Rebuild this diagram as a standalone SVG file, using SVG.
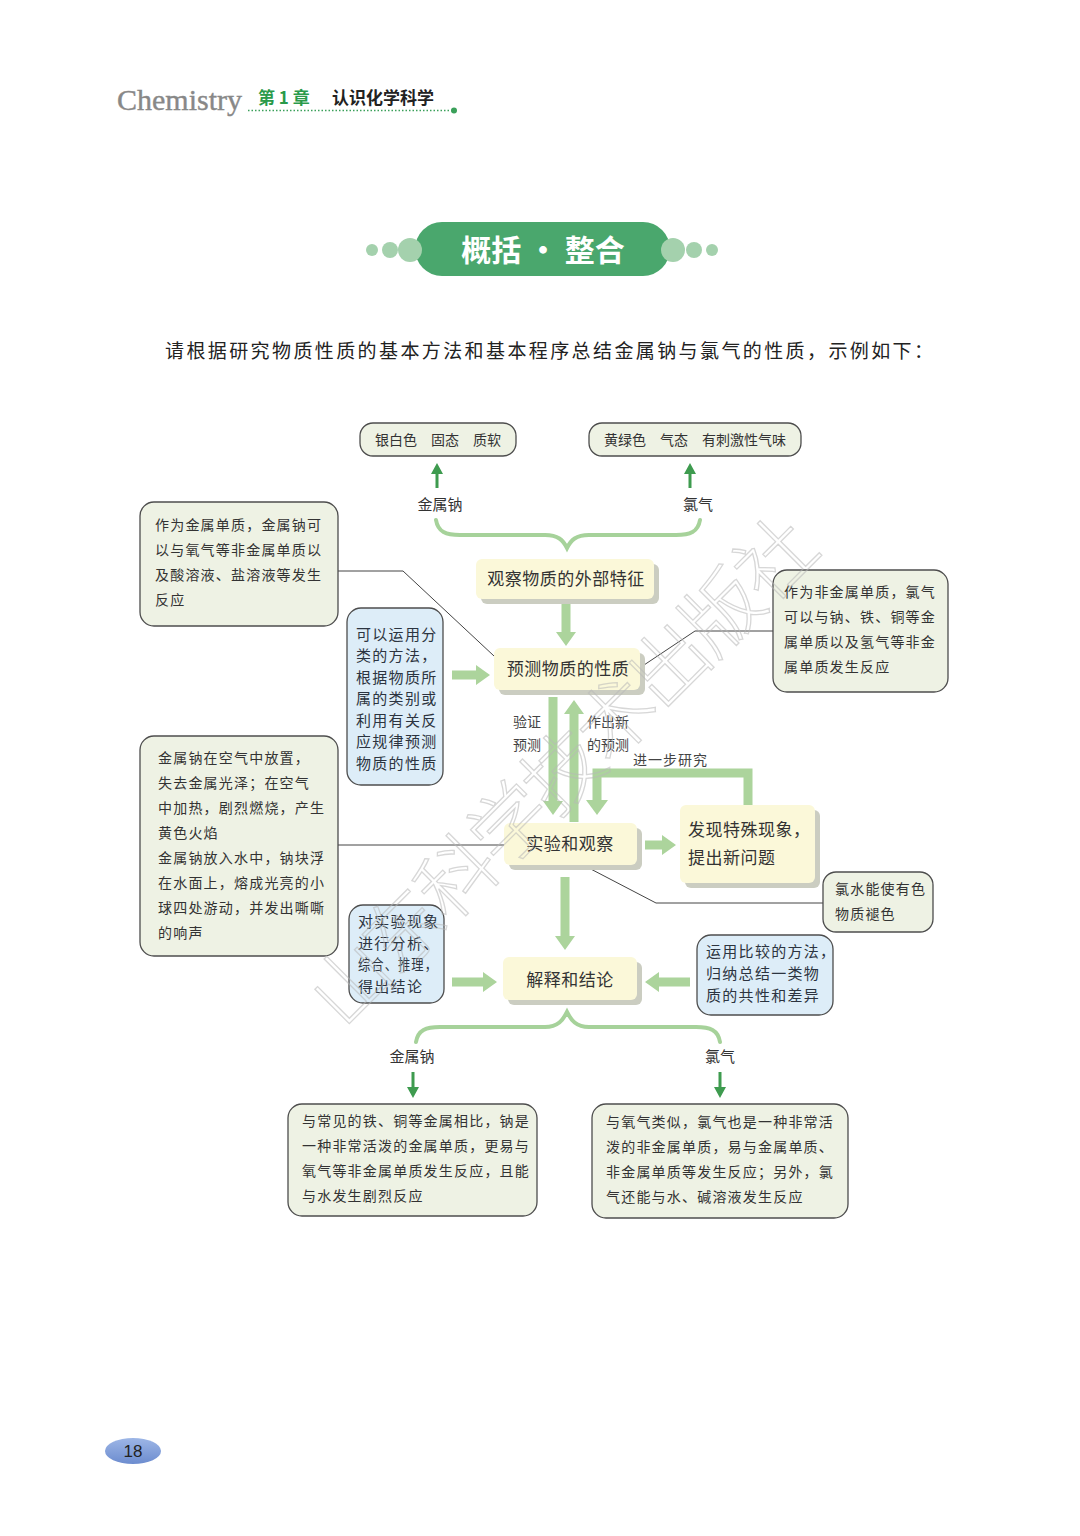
<svg xmlns="http://www.w3.org/2000/svg" width="1080" height="1536" viewBox="0 0 1080 1536">
<style>
.t{font-family:"Noto Sans CJK SC","Noto Sans CJK JP",sans-serif;fill:#333}
.d{font-size:14px;letter-spacing:1.2px}
.b{font-size:15px;letter-spacing:1.3px;fill:#2c3440}
.n{font-size:17px;letter-spacing:0.5px;fill:#333}
.lab{font-size:15px;fill:#333}
.box{fill:#eef2e4;stroke:#4d4d4d;stroke-width:1.3}
.bbox{fill:#ddedf8;stroke:#4d4d4d;stroke-width:1.3}
.node{fill:#fbf8d9}
.shd{fill:#cbcdc1}
.ta{fill:#acd49c}
.sa{fill:#3e9b4f}
.thin{fill:none;stroke:#444;stroke-width:1}
.brace{fill:none;stroke:#a6d29a;stroke-width:4;stroke-linecap:round}
</style>
<defs>
<linearGradient id="pg" x1="0" y1="0" x2="0" y2="1">
<stop offset="0" stop-color="#9db6e6"/>
<stop offset="1" stop-color="#6c8ccf"/>
</linearGradient>
</defs>
<rect width="1080" height="1536" fill="#ffffff"/>

<g id="header">
<text x="117" y="110" font-family="Liberation Serif, serif" font-size="30" fill="#888888" stroke="#888888" stroke-width="0.4">Chemistry</text>
<text x="258" y="104" class="t" font-size="17" font-weight="bold" style="fill:#2a9a4a">第 1 章</text>
<text x="332" y="104" class="t" font-size="17" font-weight="bold" style="fill:#222">认识化学科学</text>
<line x1="248" y1="110.5" x2="452" y2="110.5" stroke="#3aa05a" stroke-width="1.5" stroke-dasharray="1.5 2"/>
<circle cx="454" cy="110.5" r="3" fill="#3aa05a"/>
</g>

<g id="title">
<circle cx="372" cy="250" r="6" fill="#a4d1ad"/>
<circle cx="390" cy="250" r="8" fill="#a4d1ad"/>
<circle cx="712" cy="250" r="6" fill="#a4d1ad"/>
<circle cx="694" cy="250" r="8" fill="#a4d1ad"/>
<rect x="415" y="222" width="255" height="54" rx="27" fill="#4aa76d"/>
<circle cx="410" cy="250" r="12" fill="#a4d1ad"/>
<circle cx="673" cy="250" r="12" fill="#a4d1ad"/>
<text x="543" y="261" text-anchor="middle" class="t" font-size="30" font-weight="bold" style="fill:#ffffff">概括 · 整合</text>
</g>

<text x="165" y="358" class="t" font-size="19" letter-spacing="2.4" style="fill:#222">请根据研究物质性质的基本方法和基本程序总结金属钠与氯气的性质，示例如下：</text>

<g id="connectors">
<polygon class="sa" points="435.5,488 438.5,488 438.5,474 443,474 437,463 431,474 435.5,474"/>
<polygon class="sa" points="688.5,488 691.5,488 691.5,474 696,474 690,463 684,474 688.5,474"/>
<path class="brace" d="M436,520 C438,532 446,535 460,535 L545,535 C558,535 563,540 567,548 C571,540 576,535 589,535 L676,535 C690,535 698,532 700,520"/>
<polyline class="thin" points="338,571 403,571 494,656"/>
<polyline class="thin" points="641,667 695,631 773,631"/>
<polyline class="thin" points="338,845 505,845"/>
<polyline class="thin" points="585,866 656,903 823,903"/>
<polygon class="ta" points="561.5,604 570.5,604 570.5,632 576,632 566,646 556,632 561.5,632"/>
<polygon class="ta" points="452,670.5 452,679.5 476,679.5 476,685 490,675 476,665 476,670.5"/>
<polygon class="ta" points="548.5,697 557.5,697 557.5,801 563,801 553,815 543,801 548.5,801"/>
<polygon class="ta" points="569.5,822 578.5,822 578.5,714 584,714 574,700 564,714 569.5,714"/>
<path d="M748,806 L748,773 L597,773 L597,801" fill="none" stroke="#acd49c" stroke-width="9" stroke-linejoin="miter"/>
<polygon class="ta" points="586,800 608,800 597,815"/>
<polygon class="ta" points="645,840.5 645,849.5 662,849.5 662,855 676,845 662,835 662,840.5"/>
<polygon class="ta" points="560.5,877 569.5,877 569.5,936 575,936 565,950 555,936 560.5,936"/>
<polygon class="ta" points="452,977.5 452,986.5 483,986.5 483,992 497,982 483,972 483,977.5"/>
<polygon class="ta" points="690,977.5 690,986.5 659,986.5 659,992 645,982 659,972 659,977.5"/>
<path class="brace" d="M416,1042 C418,1030 426,1027 440,1027 L545,1027 C558,1027 563,1020 567,1012 C571,1020 576,1027 589,1027 L696,1027 C710,1027 718,1030 720,1042"/>
<polygon class="sa" points="411.5,1072 414.5,1072 414.5,1087 419,1087 413,1098 407,1087 411.5,1087"/>
<polygon class="sa" points="718.5,1072 721.5,1072 721.5,1087 726,1087 720,1098 714,1087 718.5,1087"/>
<text x="513" y="727" class="t" font-size="14" style="fill:#444">验证</text>
<text x="513" y="750" class="t" font-size="14" style="fill:#444">预测</text>
<text x="587" y="727" class="t" font-size="14" style="fill:#444">作出新</text>
<text x="587" y="750" class="t" font-size="14" style="fill:#444">的预测</text>
<text x="633" y="765" class="t" font-size="14" letter-spacing="1" style="fill:#444">进一步研究</text>
</g>

<g id="na-props">
<rect class="box" x="360" y="423" width="156" height="33" rx="13"/>
<text x="438" y="445" text-anchor="middle" class="t" font-size="14">银白色　固态　质软</text>
</g>
<g id="cl-props">
<rect class="box" x="589" y="423" width="212" height="33" rx="13"/>
<text x="695" y="445" text-anchor="middle" class="t" font-size="14">黄绿色　气态　有刺激性气味</text>
</g>
<g id="label-na-top"><text x="440" y="510" text-anchor="middle" class="t lab">金属钠</text></g>
<g id="label-cl-top"><text x="698" y="510" text-anchor="middle" class="t lab">氯气</text></g>

<g id="node-observe">
<rect class="shd" x="481" y="564" width="178" height="40" rx="6"/>
<rect class="node" x="476" y="559" width="178" height="40" rx="6"/>
<text x="566" y="585" text-anchor="middle" class="t n">观察物质的外部特征</text>
</g>
<g id="node-predict">
<rect class="shd" x="499" y="653" width="146" height="42" rx="6"/>
<rect class="node" x="494" y="648" width="146" height="42" rx="6"/>
<text x="568" y="675" text-anchor="middle" class="t n">预测物质的性质</text>
</g>
<g id="node-experiment">
<rect class="shd" x="509" y="828" width="133" height="42" rx="6"/>
<rect class="node" x="504" y="823" width="133" height="42" rx="6"/>
<text x="570" y="850" text-anchor="middle" class="t n">实验和观察</text>
</g>
<g id="node-discover">
<rect class="shd" x="685" y="810" width="135" height="78" rx="6"/>
<rect class="node" x="680" y="805" width="135" height="78" rx="6"/>
<text x="688" y="836" class="t n">发现特殊现象，</text>
<text x="688" y="864" class="t n">提出新问题</text>
</g>
<g id="node-conclude">
<rect class="shd" x="508" y="962" width="134" height="43" rx="6"/>
<rect class="node" x="503" y="957" width="134" height="43" rx="6"/>
<text x="570" y="986" text-anchor="middle" class="t n">解释和结论</text>
</g>

<g id="na-predict-note">
<rect class="box" x="140" y="502" width="198" height="124" rx="14"/>
<text x="155" y="530" class="t d">作为金属单质，金属钠可</text>
<text x="155" y="555" class="t d">以与氧气等非金属单质以</text>
<text x="155" y="580" class="t d">及酸溶液、盐溶液等发生</text>
<text x="155" y="605" class="t d">反应</text>
</g>
<g id="classify-note">
<rect class="bbox" x="347" y="608" width="96" height="177" rx="14"/>
<text x="356" y="640" class="t b">可以运用分</text>
<text x="356" y="661" class="t b">类的方法，</text>
<text x="356" y="683" class="t b">根据物质所</text>
<text x="356" y="704" class="t b">属的类别或</text>
<text x="356" y="726" class="t b">利用有关反</text>
<text x="356" y="747" class="t b">应规律预测</text>
<text x="356" y="769" class="t b">物质的性质</text>
</g>
<g id="cl-predict-note">
<rect class="box" x="773" y="570" width="175" height="122" rx="14"/>
<text x="784" y="597" class="t d">作为非金属单质，氯气</text>
<text x="784" y="622" class="t d">可以与钠、铁、铜等金</text>
<text x="784" y="647" class="t d">属单质以及氢气等非金</text>
<text x="784" y="672" class="t d">属单质发生反应</text>
</g>
<g id="na-experiment-note">
<rect class="box" x="140" y="736" width="198" height="220" rx="14"/>
<text x="158" y="763" class="t d">金属钠在空气中放置，</text>
<text x="158" y="788" class="t d">失去金属光泽；在空气</text>
<text x="158" y="813" class="t d">中加热，剧烈燃烧，产生</text>
<text x="158" y="838" class="t d">黄色火焰</text>
<text x="158" y="863" class="t d">金属钠放入水中，钠块浮</text>
<text x="158" y="888" class="t d">在水面上，熔成光亮的小</text>
<text x="158" y="913" class="t d">球四处游动，并发出嘶嘶</text>
<text x="158" y="938" class="t d">的响声</text>
</g>
<g id="cl-experiment-note">
<rect class="box" x="823" y="872" width="110" height="60" rx="13"/>
<text x="835" y="894" class="t d" letter-spacing="0.3">氯水能使有色</text>
<text x="835" y="919" class="t d" letter-spacing="0.3">物质褪色</text>
</g>
<g id="analyze-note">
<rect class="bbox" x="349" y="905" width="95" height="98" rx="14"/>
<text x="358" y="927" class="t b" letter-spacing="0.6">对实验现象</text>
<text x="358" y="949" class="t b" letter-spacing="0.6">进行分析、</text>
<text x="358" y="970" class="t b" font-size="14" letter-spacing="0" textLength="80" lengthAdjust="spacingAndGlyphs">综合、推理，</text>
<text x="358" y="992" class="t b" letter-spacing="0.6">得出结论</text>
</g>
<g id="compare-note">
<rect class="bbox" x="697" y="935" width="136" height="80" rx="14"/>
<text x="706" y="957" class="t b" letter-spacing="0.4">运用比较的方法，</text>
<text x="706" y="979" class="t b" letter-spacing="0.4">归纳总结一类物</text>
<text x="706" y="1001" class="t b" letter-spacing="0.4">质的共性和差异</text>
</g>

<g id="label-na-bottom"><text x="412" y="1062" text-anchor="middle" class="t lab">金属钠</text></g>
<g id="label-cl-bottom"><text x="720" y="1062" text-anchor="middle" class="t lab">氯气</text></g>

<g id="na-conclusion">
<rect class="box" x="288" y="1104" width="249" height="112" rx="14"/>
<text x="302" y="1126" class="t d" letter-spacing="1">与常见的铁、铜等金属相比，钠是</text>
<text x="302" y="1151" class="t d" letter-spacing="1">一种非常活泼的金属单质，更易与</text>
<text x="302" y="1176" class="t d" letter-spacing="1">氧气等非金属单质发生反应，且能</text>
<text x="302" y="1201" class="t d" letter-spacing="1">与水发生剧烈反应</text>
</g>
<g id="cl-conclusion">
<rect class="box" x="592" y="1104" width="256" height="114" rx="14"/>
<text x="606" y="1127" class="t d" letter-spacing="1">与氧气类似，氯气也是一种非常活</text>
<text x="606" y="1152" class="t d" letter-spacing="1">泼的非金属单质，易与金属单质、</text>
<text x="606" y="1177" class="t d" letter-spacing="1">非金属单质等发生反应；另外，氯</text>
<text x="606" y="1202" class="t d" letter-spacing="1">气还能与水、碱溶液发生反应</text>
</g>

<g id="watermark" opacity="0.55">
<text transform="translate(562,772) rotate(-45)" x="0" y="28" text-anchor="middle" font-family="Noto Sans CJK SC, sans-serif" font-size="78" font-weight="300" letter-spacing="-3" fill="none" stroke="#b8b8b8" stroke-width="1.3">山东科学技术出版社</text>
</g>

<g id="page-number">
<ellipse cx="133" cy="1451" rx="28" ry="13" fill="url(#pg)"/>
<text x="133" y="1457" text-anchor="middle" font-family="Liberation Sans, sans-serif" font-size="17" fill="#222">18</text>
</g>
</svg>
